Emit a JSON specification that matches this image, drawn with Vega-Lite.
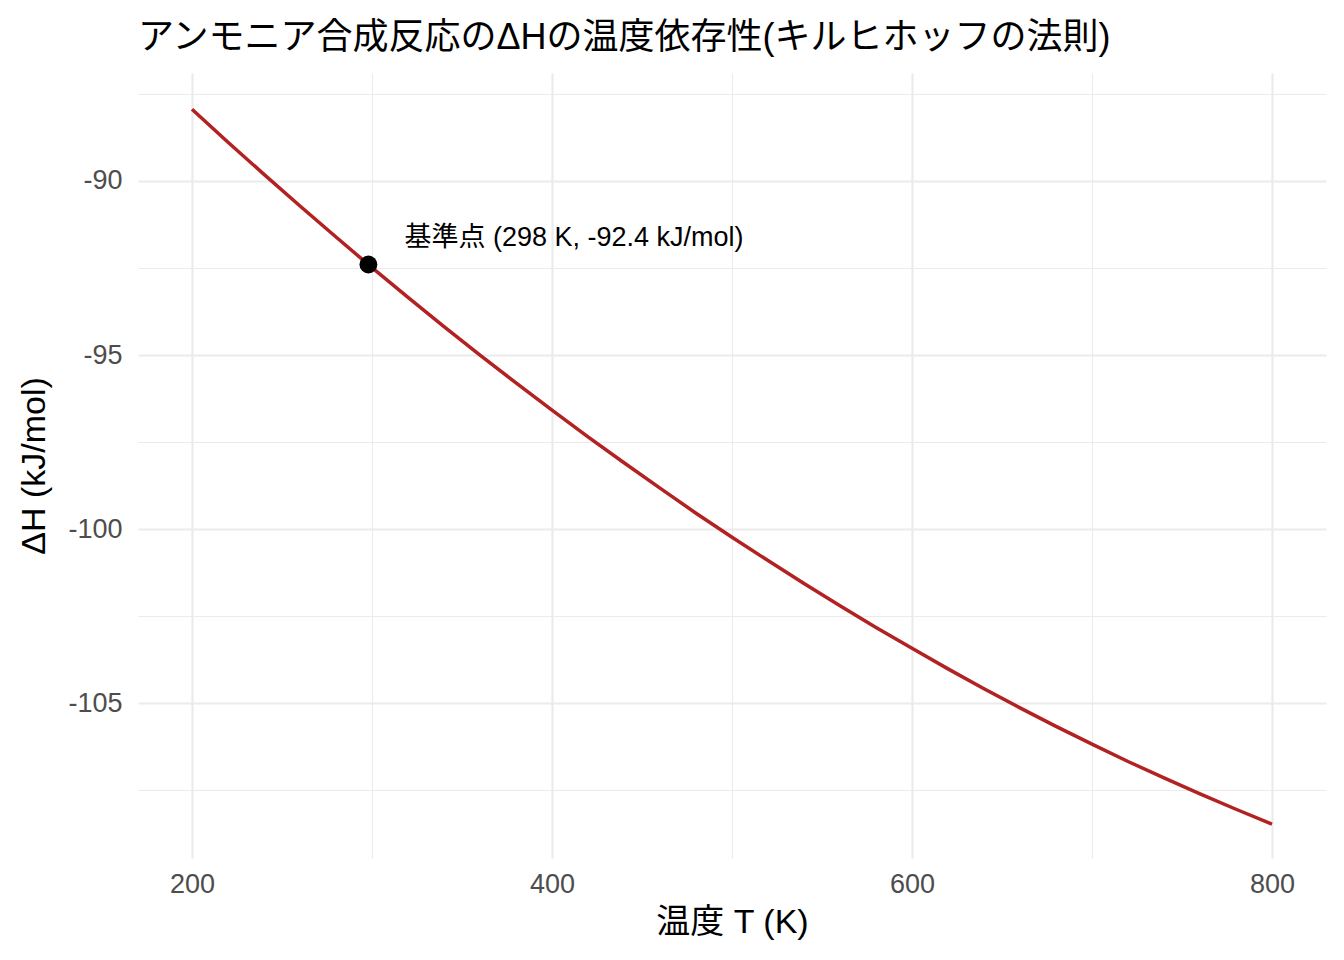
{
  "$schema": "https://vega.github.io/schema/vega-lite/v6.json",
  "width": 1188,
  "height": 785,
  "autosize": {"type": "none"},
  "padding": {"left": 138, "top": 73, "right": 18, "bottom": 102},
  "background": "white",
  "config": {
    "view": {"stroke": null},
    "font": "Liberation Sans, Noto Sans CJK JP"
  },
  "title": {
    "text": "アンモニア合成反応のΔHの温度依存性(キルヒホッフの法則)",
    "anchor": "start",
    "frame": "group",
    "font": "Liberation Sans, Noto Sans CJK JP",
    "fontSize": 36,
    "fontWeight": "normal",
    "color": "black",
    "offset": 16
  },
  "datasets": {
    "curve": [
      {"T": 200, "dH": -87.94},
      {"T": 220, "dH": -88.89},
      {"T": 240, "dH": -89.81},
      {"T": 260, "dH": -90.72},
      {"T": 280, "dH": -91.61},
      {"T": 298, "dH": -92.40},
      {"T": 300, "dH": -92.49},
      {"T": 320, "dH": -93.34},
      {"T": 340, "dH": -94.18},
      {"T": 360, "dH": -95.00},
      {"T": 380, "dH": -95.80},
      {"T": 400, "dH": -96.58},
      {"T": 420, "dH": -97.35},
      {"T": 440, "dH": -98.09},
      {"T": 460, "dH": -98.82},
      {"T": 480, "dH": -99.54},
      {"T": 500, "dH": -100.23},
      {"T": 520, "dH": -100.90},
      {"T": 540, "dH": -101.56},
      {"T": 560, "dH": -102.20},
      {"T": 580, "dH": -102.82},
      {"T": 600, "dH": -103.42},
      {"T": 620, "dH": -104.01},
      {"T": 640, "dH": -104.58},
      {"T": 660, "dH": -105.13},
      {"T": 680, "dH": -105.66},
      {"T": 700, "dH": -106.17},
      {"T": 720, "dH": -106.67},
      {"T": 740, "dH": -107.14},
      {"T": 760, "dH": -107.60},
      {"T": 780, "dH": -108.04},
      {"T": 800, "dH": -108.47}
    ],
    "ref": [{"T": 298, "dH": -92.4}],
    "note": [{"T": 318, "dH": -91.65, "label": "基準点 (298 K, -92.4 kJ/mol)"}]
  },
  "encoding": {
    "x": {
      "field": "T",
      "type": "quantitative",
      "scale": {"domain": [170, 830], "nice": false, "zero": false},
      "axis": {
        "title": "温度 T (K)",
        "titleFontSize": 34,
        "titleFontWeight": "normal",
        "titleColor": "black",
        "titlePadding": 8,
        "values": [200, 300, 400, 500, 600, 700, 800],
        "labelExpr": "datum.value % 200 === 0 ? '' + datum.value : ''",
        "labelFontSize": 27,
        "labelColor": "#4d4d4d",
        "labelPadding": 13,
        "ticks": false,
        "domain": false,
        "grid": true,
        "gridColor": "#ebebeb",
        "gridWidth": {"condition": {"test": "datum.value % 200 === 0", "value": 2.2}, "value": 1.1}
      }
    },
    "y": {
      "field": "dH",
      "type": "quantitative",
      "scale": {"domain": [-109.44, -86.9], "nice": false, "zero": false},
      "axis": {
        "title": "ΔH (kJ/mol)",
        "titleFontSize": 34,
        "titleFontWeight": "normal",
        "titleColor": "black",
        "titlePadding": 16,
        "values": [-107.5, -105, -102.5, -100, -97.5, -95, -92.5, -90, -87.5],
        "labelExpr": "datum.value % 5 === 0 ? '' + datum.value : ''",
        "labelFontSize": 27,
        "labelColor": "#4d4d4d",
        "labelPadding": 16,
        "ticks": false,
        "domain": false,
        "grid": true,
        "gridColor": "#ebebeb",
        "gridWidth": {"condition": {"test": "datum.value % 5 === 0", "value": 2.2}, "value": 1.1}
      }
    }
  },
  "layer": [
    {
      "data": {"name": "curve"},
      "mark": {"type": "line", "color": "#B22222", "strokeWidth": 3.5}
    },
    {
      "data": {"name": "ref"},
      "mark": {"type": "point", "filled": true, "color": "black", "opacity": 1, "size": 320}
    },
    {
      "data": {"name": "note"},
      "mark": {"type": "text", "align": "left", "baseline": "middle", "fontSize": 27, "color": "black", "font": "Liberation Sans, Noto Sans CJK JP"},
      "encoding": {
        "text": {"field": "label"}
      }
    }
  ]
}
